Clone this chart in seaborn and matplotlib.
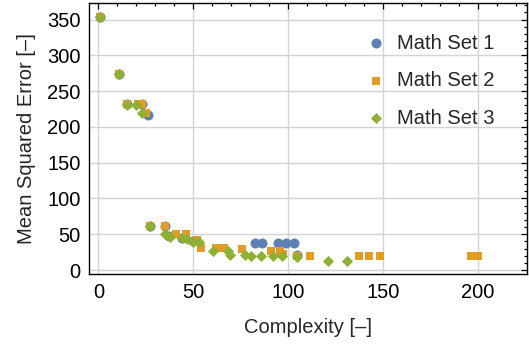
import matplotlib
matplotlib.use("Agg")
import matplotlib.pyplot as plt
from matplotlib.ticker import MultipleLocator
import seaborn as sns
import pandas as pd

# Complexity vs. mean squared error for three math sets
set1_x = [1, 11, 15, 23, 26, 27, 35, 37, 44, 50, 82.5, 86.5, 94.7, 98.8, 103, 105]
set1_y = [353, 274, 232, 232, 216, 61, 61.5, 47, 45, 40, 38, 38, 38, 38, 38, 21]

set2_x = [1, 11, 15, 21, 23, 25, 27, 35, 41, 46, 52, 54, 62, 66.5, 75.5,
          91, 96, 97.5, 105, 111.4, 137.4, 142.5, 148.6, 196.5, 200.4]
set2_y = [353, 274, 232, 232, 232, 220, 61, 62, 50, 50, 42, 31, 31, 31, 30,
          27, 27, 22, 20, 20, 20, 20, 20, 20, 19]

set3_x = [1, 11, 15, 20, 23, 27, 35, 37.7, 44, 47, 50, 53, 60.5, 68.5, 69.5,
          77.5, 80.7, 86, 92, 96.8, 104.7, 121.2, 131]
set3_y = [353, 274, 231, 231, 219, 61, 51, 46.5, 45, 44, 39.5, 38.7, 27, 26, 21,
          21, 19.5, 19.5, 19, 19.5, 18, 12.5, 12.5]

labels = ["Math Set 1", "Math Set 2", "Math Set 3"]
x_ticks = [0, 50, 100, 150, 200]
y_ticks = [0, 50, 100, 150, 200, 250, 300, 350]

sns.set_style("white")
plt.rcParams["font.family"] = ["Liberation Sans", "DejaVu Sans"]

fig = plt.figure(figsize=(5.29, 3.49), dpi=100)
ax = fig.add_axes([0.168, 0.214, 0.828, 0.777])

series = [
    (set1_x, set1_y, labels[0], "#5E81B5", "o", 52),
    (set2_x, set2_y, labels[1], "#E19C24", "s", 26),
    (set3_x, set3_y, labels[2], "#8FB032", "D", 32),
]
for xs, ys, lab, col, mk, size in series:
    df = pd.DataFrame({"Complexity": xs, "MSE": ys})
    sns.scatterplot(data=df, x="Complexity", y="MSE", ax=ax, color=col,
                    marker=mk, s=size, linewidth=0, label=lab, zorder=3)

ax.set_xlim(-5, 226)
ax.set_ylim(-6, 373)
ax.set_xticks(x_ticks)
ax.set_yticks(y_ticks)
ax.xaxis.set_minor_locator(MultipleLocator(10))
ax.yaxis.set_minor_locator(MultipleLocator(10))
ax.tick_params(which="both", direction="in", top=True, right=True,
               labelsize=14.5, colors="black", width=0.9)
ax.tick_params(which="major", length=4.5, pad=6)
ax.tick_params(which="minor", length=2.5)
ax.grid(True, which="major", color="#d4d4d4", linewidth=1.0)
ax.set_axisbelow(True)
for sp in ax.spines.values():
    sp.set_color("black")
    sp.set_linewidth(1.0)

ax.set_xlabel("Complexity [–]", fontsize=14.5, labelpad=12)
ax.set_ylabel("Mean Squared Error [–]", fontsize=14.5, labelpad=8)

ax.legend(loc="upper left", bbox_to_anchor=(0.632, 0.888), frameon=False,
          fontsize=14.5, handlelength=1.0, handletextpad=0.55,
          labelspacing=0.92, borderpad=0, borderaxespad=0)

fig.savefig("out.png", dpi=100)
